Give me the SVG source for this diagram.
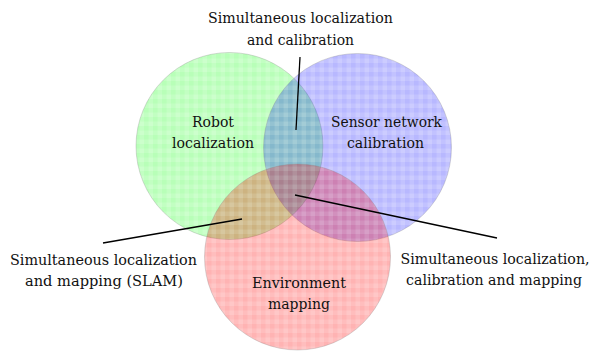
<svg xmlns="http://www.w3.org/2000/svg" width="592" height="352" viewBox="0 0 592 352">
<style>
.c{stroke:#888;stroke-opacity:0.3;stroke-width:1}
.ln{stroke:#000;stroke-width:1.3;fill:none}
</style>
<defs>
<pattern id="pg" width="9" height="9" patternUnits="userSpaceOnUse">
<rect width="9" height="9" fill="#00ff00" fill-opacity="0.2"/>
<rect width="4.5" height="9" fill="#00ff00" fill-opacity="0.05"/>
<rect width="9" height="4.5" fill="#00ff00" fill-opacity="0.05"/>
</pattern>
<pattern id="pb" width="9" height="9" patternUnits="userSpaceOnUse">
<rect width="9" height="9" fill="#0000ff" fill-opacity="0.2"/>
<rect width="4.5" height="9" fill="#0000ff" fill-opacity="0.05"/>
<rect width="9" height="4.5" fill="#0000ff" fill-opacity="0.05"/>
</pattern>
<pattern id="pr" width="9" height="9" patternUnits="userSpaceOnUse">
<rect width="9" height="9" fill="#ff0000" fill-opacity="0.22"/>
<rect width="4.5" height="9" fill="#ff0000" fill-opacity="0.05"/>
<rect width="9" height="4.5" fill="#ff0000" fill-opacity="0.05"/>
</pattern>
</defs>
<rect width="592" height="352" fill="#fff"/>
<g id="robot-localization">
<circle class="c" cx="229.5" cy="146" r="93.5" fill="url(#pg)"/>
</g>
<g id="sensor-network-calibration">
<circle class="c" cx="357.5" cy="147.5" r="94" fill="url(#pb)"/>
</g>
<g id="environment-mapping">
<circle class="c" cx="297.5" cy="257" r="93" fill="url(#pr)"/>
</g>
<g id="connectors">
<line class="ln" x1="300" y1="57" x2="296" y2="130"/>
<line class="ln" x1="103" y1="243" x2="242" y2="219"/>
<line class="ln" x1="295" y1="195" x2="497" y2="238"/>
</g>
<g font-family="'DejaVu Serif', serif" font-size="15.5" fill="#111" text-anchor="middle">
<g id="labels">
<text x="213" y="127" textLength="42" lengthAdjust="spacingAndGlyphs">Robot</text>
<text x="213" y="148" textLength="82" lengthAdjust="spacingAndGlyphs">localization</text>
<text x="386.5" y="127" textLength="111" lengthAdjust="spacingAndGlyphs">Sensor network</text>
<text x="385.5" y="148" textLength="77" lengthAdjust="spacingAndGlyphs">calibration</text>
<text x="299" y="288" textLength="94" lengthAdjust="spacingAndGlyphs">Environment</text>
<text x="299" y="309" textLength="62" lengthAdjust="spacingAndGlyphs">mapping</text>
</g>
<g id="label-slc">
<text x="300.5" y="23" textLength="185" lengthAdjust="spacingAndGlyphs">Simultaneous localization</text>
<text x="300.5" y="45" textLength="107" lengthAdjust="spacingAndGlyphs">and calibration</text>
</g>
<g id="label-slam">
<text x="103.5" y="265" textLength="187" lengthAdjust="spacingAndGlyphs">Simultaneous localization</text>
<text x="104" y="286" textLength="158" lengthAdjust="spacingAndGlyphs">and mapping (SLAM)</text>
</g>
<g id="label-slcm" font-size="14.3">
<text x="495" y="264" textLength="189" lengthAdjust="spacingAndGlyphs">Simultaneous localization,</text>
<text x="494" y="285" textLength="176" lengthAdjust="spacingAndGlyphs">calibration and mapping</text>
</g>
</g>
</svg>
